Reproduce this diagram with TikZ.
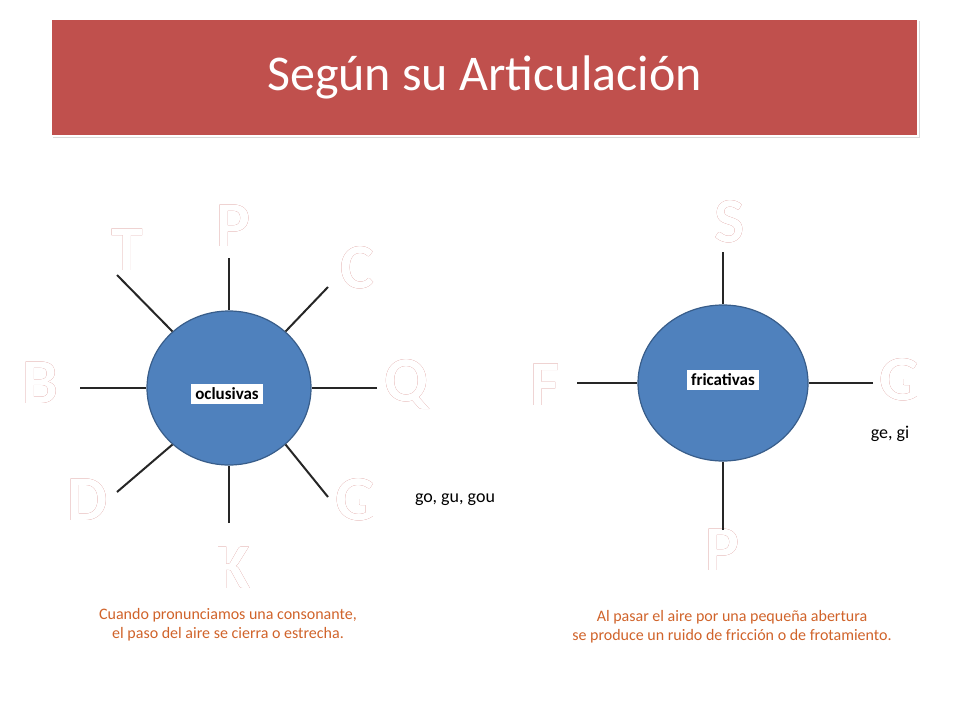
\documentclass[tikz,border=0pt]{standalone}
\usetikzlibrary{shapes.geometric}
\usepackage{fontspec}
\setmainfont{Carlito}
\usepackage[outline]{contour}
\contourlength{1.2pt}
\definecolor{ttl}{HTML}{C0504D}
\definecolor{blu}{HTML}{4F81BD}
\definecolor{blud}{HTML}{385D8A}
\definecolor{org}{HTML}{D0632A}
\begin{document}
\begin{tikzpicture}[x=1pt,y=-1pt,
  letter/.style={font=\fontsize{64}{64}\selectfont\bfseries},
  tag/.style={fill=white,font=\fontsize{17}{17}\selectfont\bfseries,inner sep=4pt},
  spoke/.style={line width=2pt,black!85},
  captxt/.style={text=org,font=\fontsize{16}{19}\selectfont,align=center},
  note/.style={font=\fontsize{18}{18}\selectfont}]
\useasboundingbox (0,0) rectangle (960,720);
\fill[black!15] (53,21) rectangle (920,138);
\node[fill=ttl,draw=white,line width=2pt,minimum width=867pt,minimum height=117pt,inner sep=0pt,anchor=north west] (title) at (50,18) {};
\node[text=white,font=\fontsize{50}{50}\selectfont] at (title.center) {Según su Articulación};
\newcommand{\ltr}[1]{\contour{ttl}{\textcolor{white}{#1}}}
% left
\node[shape=ellipse,draw=blud,line width=1.2pt,fill=blu,minimum width=164pt,minimum height=154pt] (L) at (229,388) {};
\node[tag] (lt) at (227,394) {oclusivas};
\node[letter] (lP) at (234,226) {\ltr{P}};
\node[letter] (lT) at (127,250) {\ltr{T}};
\node[letter] (lC) at (357,268) {\ltr{C}};
\node[letter] (lB) at (40,383) {\ltr{B}};
\node[letter] (lQ) at (406,385) {\ltr{Q}};
\node[letter] (lD) at (88,500) {\ltr{D}};
\node[letter] (lG) at (356,500) {\ltr{G}};
\node[letter] (lK) at (233,568) {\ltr{K}};
\coordinate (a1) at (229,258); \coordinate (a2) at (117,275); \coordinate (a3) at (328,287);
\coordinate (a4) at (80,388); \coordinate (a5) at (377,388); \coordinate (a6) at (117,492);
\coordinate (a7) at (328,497); \coordinate (a8) at (229,523);
\foreach \c/\ang in {a1/90,a2/135,a3/45,a4/180,a5/0,a6/225,a7/315,a8/270}
  \draw[spoke] (\c) -- (L.\ang);
\node[note] (go) at (455,500) {go, gu, gou};
\node[captxt] (c1) at (228,625) {Cuando pronunciamos una consonante,\\el paso del aire se cierra o estrecha.};
% right
\node[shape=ellipse,draw=blud,line width=1.2pt,fill=blu,minimum width=170pt,minimum height=156pt] (R) at (723,383) {};
\node[tag] (rt) at (723,380) {fricativas};
\node[letter] (rS) at (730,222) {\ltr{S}};
\node[letter] (rF) at (545,385) {\ltr{F}};
\node[letter] (rG) at (900,380) {\ltr{G}};
\node[letter] (rP) at (723,550) {\ltr{P}};
\coordinate (b1) at (723,252); \coordinate (b2) at (577,383); \coordinate (b3) at (873,383); \coordinate (b4) at (723,530);
\foreach \c/\ang in {b1/90,b2/180,b3/0,b4/270}
  \draw[spoke] (\c) -- (R.\ang);
\node[note] (ge) at (890,434) {ge, gi};
\node[captxt] (c2) at (732,627) {Al pasar el aire por una pequeña abertura\\se produce un ruido de fricción o de frotamiento.};
\end{tikzpicture}
\end{document}
